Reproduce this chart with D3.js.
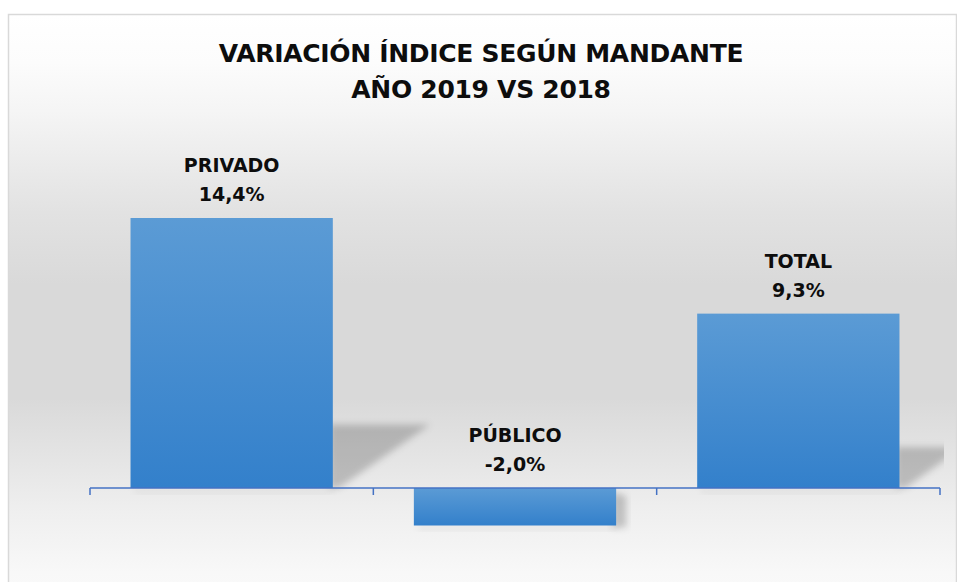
<!DOCTYPE html>
<html>
<head>
<meta charset="utf-8">
<script src="https://cdn.jsdelivr.net/npm/d3@7"></script>
<style>
  html, body { margin: 0; padding: 0; background: #fff; }
  svg { display: block; }
  text { font-family: 'DejaVu Sans', sans-serif; font-weight: bold; fill: #0d0d0d; }
</style>
</head>
<body>
<svg id="chart-svg" width="957" height="582"></svg>
<script>
// chart data
var titleLines = ['VARIACIÓN ÍNDICE SEGÚN MANDANTE', 'AÑO 2019 VS 2018']
var categories = ['PRIVADO', 'PÚBLICO', 'TOTAL']
var values = [14.4, -2.0, 9.3]

var svg = d3.select('#chart-svg')
var svgWidth = 957
var svgHeight = 582

var margin = { top: 188, right: 17, bottom: 94, left: 90 }
var plotRight = svgWidth - margin.right
var plotBottom = svgHeight - margin.bottom

var defs = svg.append('defs')

// background gradient (white -> grey -> white)
var bg = defs.append('linearGradient')
  .attr('id', 'bg-grad')
  .attr('x1', 0).attr('y1', 0).attr('x2', 0).attr('y2', 1)
var bgStops = [[0, '#ffffff'], [0.08, '#fcfcfc'], [0.16, '#f5f5f5'], [0.33, '#e2e2e2'],
  [0.45, '#d9d9d9'], [0.64, '#d9d9d9'], [0.82, '#eeeeee'], [0.93, '#f8f8f8'], [1, '#fbfbfb']]
bgStops.forEach(function (s) {
  bg.append('stop').attr('offset', s[0]).attr('stop-color', s[1])
})

var barGrad = defs.append('linearGradient')
  .attr('id', 'bar-grad')
  .attr('x1', 0).attr('y1', 0).attr('x2', 0).attr('y2', 1)
barGrad.append('stop').attr('offset', 0).attr('stop-color', '#5b9bd5')
barGrad.append('stop').attr('offset', 1).attr('stop-color', '#3380cb')

defs.append('filter')
  .attr('id', 'blur')
  .attr('x', -0.3).attr('y', -0.3).attr('width', 1.6).attr('height', 1.6)
  .append('feGaussianBlur')
  .attr('stdDeviation', 3.5)

defs.append('clipPath')
  .attr('id', 'plot-clip')
  .append('rect')
  .attr('x', margin.left)
  .attr('y', 0)
  .attr('width', plotRight - margin.left + 4)
  .attr('height', svgHeight)

// chart area
svg.append('rect')
  .attr('x', 8.5)
  .attr('y', 14.5)
  .attr('width', 948)
  .attr('height', 600)
  .attr('fill', 'url(#bg-grad)')
  .attr('stroke', '#d9d9d9')
  .attr('stroke-width', 1.5)

// title
svg.append('g')
  .selectAll('text')
  .data(titleLines)
  .enter()
  .append('text')
  .attr('x', 481)
  .attr('y', function (d, i) { return 62 + i * 36 })
  .attr('text-anchor', 'middle')
  .style('font-size', '25px')
  .style('letter-spacing', '-0.3px')
  .text(function (d) { return d })

// scales
var x = d3.scaleBand()
  .domain(categories)
  .range([margin.left, plotRight])
  .paddingInner(0.286)
  .paddingOuter(0.143)

var y = d3.scaleLinear()
  .domain([0, 16])
  .range([plotBottom, margin.top])

var data = categories.map(function (c, i) { return { cat: c, value: values[i] } })

// perspective shadows
var shadows = svg.append('g').attr('clip-path', 'url(#plot-clip)')
shadows.selectAll('polygon')
  .data(data)
  .enter()
  .append('polygon')
  .attr('points', function (d) {
    var x0 = x(d.cat)
    var x1 = x0 + x.bandwidth()
    var base = y(0)
    var h = Math.abs(y(d.value) - base)
    if (d.value >= 0) {
      var dy = h * 0.235
      var dx = h * 0.36
      return [[x1 - 4, base], [x1 - 4, base - dy], [x1 + dx, base - dy], [x1 + 6, base]].join(' ')
    }
    var yb = y(d.value)
    return [[x1 - 4, base + 4], [x1 + 10, base + 8], [x1 + 10, yb + 2], [x1 - 4, yb + 2]].join(' ')
  })
  .attr('fill', '#000')
  .attr('fill-opacity', 0.2)
  .attr('filter', 'url(#blur)')

// soft shadow just under the bars
shadows.selectAll('rect.under')
  .data(data)
  .enter()
  .append('rect')
  .attr('class', 'under')
  .attr('x', function (d) { return x(d.cat) + 4 })
  .attr('y', function (d) { return Math.max(y(0), y(d.value)) })
  .attr('width', x.bandwidth() - 4)
  .attr('height', 5)
  .attr('fill', '#000')
  .attr('fill-opacity', 0.06)
  .attr('filter', 'url(#blur)')

// bars
svg.append('g')
  .selectAll('rect')
  .data(data)
  .enter()
  .append('rect')
  .attr('x', function (d) { return x(d.cat) })
  .attr('y', function (d) { return Math.min(y(0), y(d.value)) })
  .attr('width', x.bandwidth())
  .attr('height', function (d) { return Math.abs(y(d.value) - y(0)) })
  .attr('fill', 'url(#bar-grad)')

// category axis at zero, ticks between categories
var axisG = svg.append('g')
  .attr('transform', 'translate(0,' + y(0) + ')')
var tickXs = [margin.left].concat(categories.map(function (c) {
  return x(c) + x.bandwidth() + x.step() * x.paddingInner() / 2
}))
axisG.append('line')
  .attr('x1', margin.left)
  .attr('x2', plotRight)
  .attr('stroke', '#4472c4')
  .attr('stroke-width', 1.5)
axisG.selectAll('line.tick')
  .data(tickXs)
  .enter()
  .append('line')
  .attr('class', 'tick')
  .attr('x1', function (d) { return d })
  .attr('x2', function (d) { return d })
  .attr('y1', 0)
  .attr('y2', 7)
  .attr('stroke', '#4472c4')
  .attr('stroke-width', 1.5)

// data labels: category + value
var fmt = d3.format('.1f')
var labels = svg.append('g')
  .selectAll('text')
  .data(data)
  .enter()
  .append('text')
  .attr('text-anchor', 'middle')
  .attr('transform', function (d) {
    return 'translate(' + (x(d.cat) + x.bandwidth() / 2) + ',' + (y(Math.max(0, d.value)) - 17) + ')'
  })
  .style('font-size', '19px')
labels.append('tspan')
  .attr('x', 0)
  .attr('y', -29)
  .text(function (d) { return d.cat })
labels.append('tspan')
  .attr('x', 0)
  .attr('y', 0)
  .text(function (d) { return fmt(d.value).replace('.', ',').replace('−', '-') + '%' })
</script>
</body>
</html>
